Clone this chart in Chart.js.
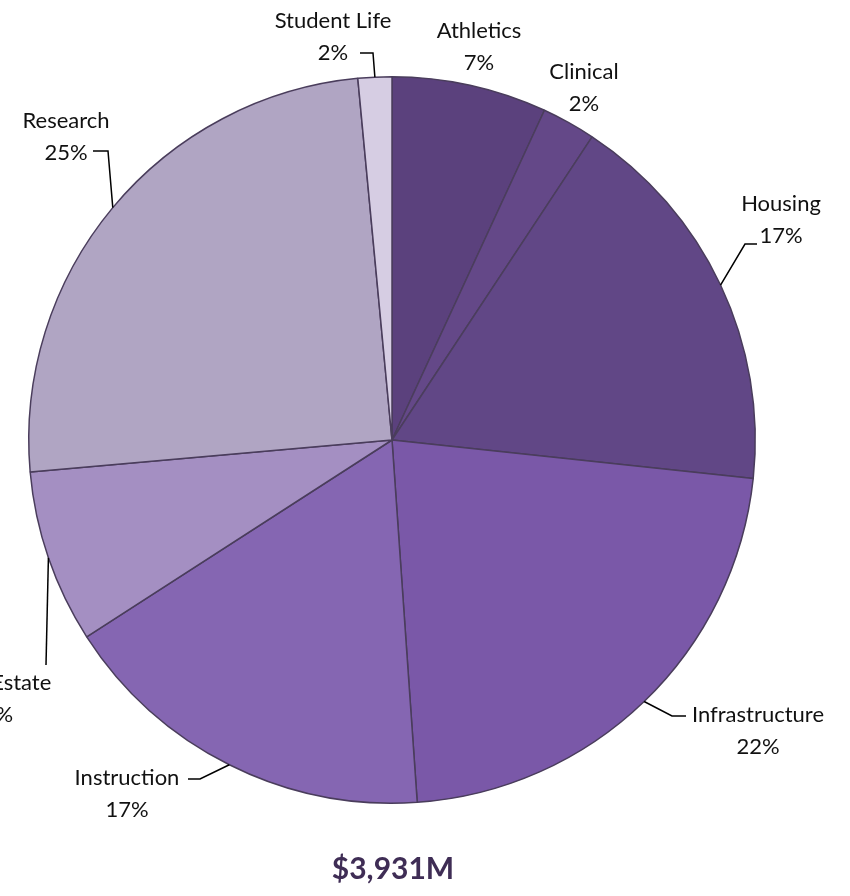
<!DOCTYPE html>
<html>
<head>
<meta charset="utf-8">
<script src="https://cdn.jsdelivr.net/npm/chart.js@4"></script>
<style>
    body { margin: 0; background: #fff; }
    canvas { display: block; }
</style>
</head>
<body>
<canvas id="pieChart" width="850" height="896"></canvas>
<script>
// budget areas, $M (total 3,931)
const categories = ['Athletics', 'Clinical', 'Housing', 'Infrastructure', 'Instruction', 'Real Estate', 'Research', 'Student Life'];
const amounts = [271, 94, 684, 873, 668, 303, 979, 59];
const totalLabel = '$3,931M';

const sliceColors = ['#5b417d', '#644888', '#614786', '#7a58a8', '#8566b2', '#a48fc2', '#b0a5c3', '#d6cde3'];

// where each label sits, and the leader line bend (if any)
const labelSpots = [
    { x: 479, y: 31 },
    { x: 584, y: 72 },
    { x: 781, y: 204, line: [[745, 244], [757, 244]] },
    { x: 758, y: 715, line: [[672, 716], [686, 716]] },
    { x: 127, y: 778, line: [[200, 779], [188, 779]] },
    { x: -2, y: 683, line: [[46, 665]] },
    { x: 66, y: 121, line: [[108, 151], [93, 151]] },
    { x: 333, y: 21, line: [[373, 53], [360, 53]] }
];

const total = amounts.reduce((s, v) => s + v, 0);

// labels + leader lines
const outsideLabels = {
    id: 'outsideLabels',
    afterDatasetsDraw(chart) {
        const ctx = chart.ctx;
        const arcs = chart.getDatasetMeta(0).data;
        ctx.save();
        arcs.forEach((arc, i) => {
            const spot = labelSpots[i];
            if (spot.line) {
                const mid = (arc.startAngle + arc.endAngle) / 2;
                ctx.beginPath();
                ctx.moveTo(arc.x + Math.cos(mid) * arc.outerRadius, arc.y + Math.sin(mid) * arc.outerRadius);
                spot.line.forEach(p => ctx.lineTo(p[0], p[1]));
                ctx.strokeStyle = '#000';
                ctx.lineWidth = 1.5;
                ctx.stroke();
            }
            const pct = Math.round(amounts[i] / total * 100) + '%';
            ctx.fillStyle = '#111';
            ctx.font = '22px Lato, "Open Sans", sans-serif';
            ctx.textAlign = 'center';
            ctx.textBaseline = 'middle';
            ctx.fillText(categories[i], spot.x, spot.y);
            ctx.fillText(pct, spot.x, spot.y + 32);
        });

        // total underneath
        ctx.fillStyle = '#3f2d55';
        ctx.font = 'bold 30px Lato, "Open Sans", sans-serif';
        ctx.fillText(totalLabel, 393, 869);
        ctx.restore();
    }
};

new Chart(document.getElementById('pieChart'), {
    type: 'pie',
    data: {
        labels: categories,
        datasets: [{
            data: amounts,
            backgroundColor: sliceColors,
            borderColor: '#4a3d5c',
            borderWidth: 1.5
        }]
    },
    options: {
        responsive: false,
        animation: false,
        layout: { padding: { left: 28, right: 94, top: 76, bottom: 92 } },
        plugins: {
            legend: { display: false },
            tooltip: { enabled: false }
        }
    },
    plugins: [outsideLabels]
});
</script>
</body>
</html>
